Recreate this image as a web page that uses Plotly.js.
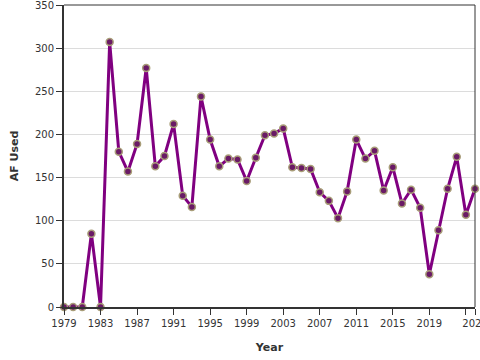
<!DOCTYPE html>
<html>
<head>
<meta charset="utf-8">
<script src="https://cdn.plot.ly/plotly-3.0.1.min.js"></script>
<style>html,body{margin:0;padding:0;background:#fff;}#chart{width:480px;height:360px;}</style>
</head>
<body>
<div id="chart"></div>
<script>
const years = [1979,1980,1981,1982,1983,1984,1985,1986,1987,1988,1989,1990,1991,1992,1993,1994,1995,1996,1997,1998,1999,2000,2001,2002,2003,2004,2005,2006,2007,2008,2009,2010,2011,2012,2013,2014,2015,2016,2017,2018,2019,2020,2021,2022,2023,2024];
const afUsed = [0,0,0,85,0,307,180,157,189,277,163,175,212,129,116,244,194,163,172,171,146,173,199,201,207,162,161,160,133,123,103,134,194,172,181,135,162,120,136,115,38,89,137,174,107,137];
const tickYears = [1979,1983,1987,1991,1995,1999,2003,2007,2011,2015,2019,2023,2024];
const tickLabels = ["1979","1983","1987","1991","1995","1999","2003","2007","2011","2015","2019","","2024"];
const yTicks = [0,50,100,150,200,250,300,350];

const trace = {
  x: years, y: afUsed, type: 'scatter', mode: 'lines+markers',
  line: {color: '#800080', width: 3},
  marker: {size: 7, color: '#6a1a66', line: {color: '#a89d78', width: 1.5}},
  cliponaxis: false,
  hoverinfo: 'x+y'
};

const layout = {
  width: 480, height: 360,
  margin: {l: 64, r: 5, t: 5, b: 53},
  paper_bgcolor: '#fff', plot_bgcolor: '#fff',
  font: {family: 'DejaVu Sans, Verdana, sans-serif', size: 10, color: '#333'},
  showlegend: false,
  xaxis: {
    range: [1979, 2024], tickmode: 'array', tickvals: tickYears, ticktext: tickLabels,
    showgrid: false, zeroline: false,
    showline: true, linecolor: '#333', linewidth: 2,
    ticks: 'outside', ticklen: 6, tickcolor: '#333', tickwidth: 1,
    tickfont: {size: 10, color: '#333'}, ticklabeloverflow: 'allow',
    title: {text: '<b>Year</b>', font: {size: 11, color: '#333'}, standoff: 15},
    automargin: false
  },
  yaxis: {
    range: [0, 350], tickmode: 'array', tickvals: yTicks,
    showgrid: true, gridcolor: '#dcdcdc', gridwidth: 1, zeroline: false,
    showline: true, linecolor: '#333', linewidth: 2,
    ticks: 'outside', ticklen: 6, tickcolor: '#333', tickwidth: 1,
    tickfont: {size: 10, color: '#333'}, ticklabeloverflow: 'allow',
    title: {text: '<b>AF Used</b>', font: {size: 11, color: '#333'}, standoff: 14},
    automargin: false
  },
  shapes: [
    {type: 'line', xref: 'paper', yref: 'paper', x0: 0, x1: 1, y0: 1, y1: 1, line: {color: '#333', width: 1}},
    {type: 'line', xref: 'paper', yref: 'paper', x0: 1, x1: 1, y0: 0, y1: 1, line: {color: '#333', width: 1}}
  ]
};

Plotly.newPlot('chart', [trace], layout, {displayModeBar: false, staticPlot: true});
</script>
</body>
</html>
